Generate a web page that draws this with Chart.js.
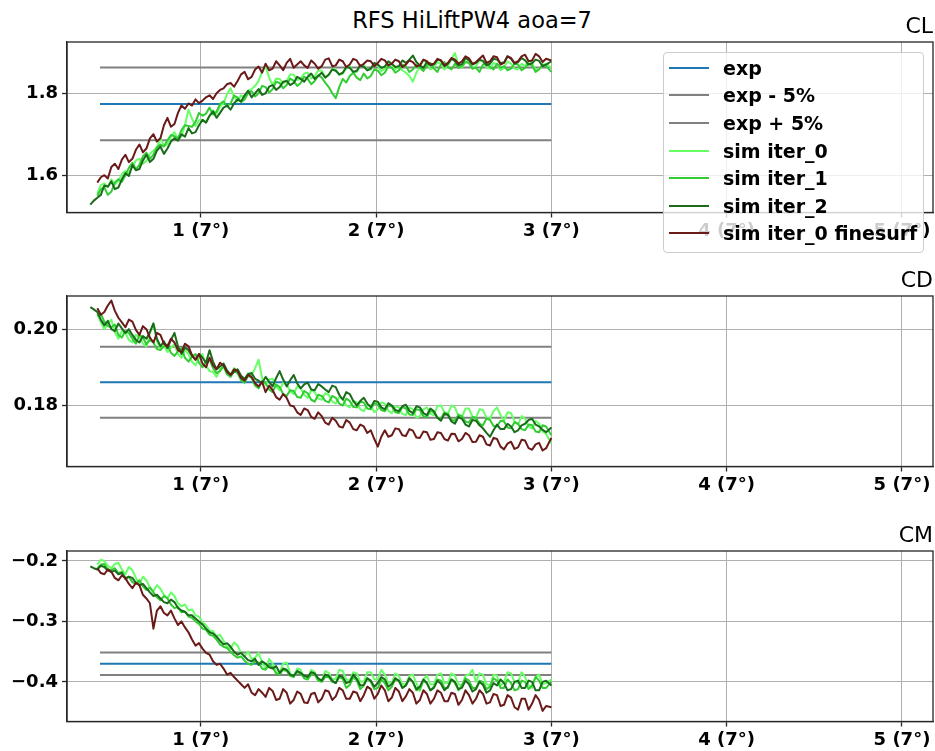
<!DOCTYPE html>
<html lang="en">
<head>
<meta charset="UTF-8">
<title>RFS HiLiftPW4 aoa=7</title>
<script src="https://cdn.jsdelivr.net/npm/chart.js"></script>
<style>
  body { margin: 0; width: 935px; height: 751px; overflow: hidden; background: #fff; position: relative; font-family: 'DejaVu Sans', sans-serif; }
  canvas { position: absolute; left: 0; }
  #titulo { position: absolute; top: 7px; left: 0; width: 944px; text-align: center; font-size: 22.5px; line-height: 26px; color: #000; }
  #legenda { position: absolute; left: 663px; top: 52px; width: 259px; height: 198px; background: rgba(255,255,255,0.8); border: 1px solid #cccccc; border-radius: 4px; padding-top: 1px; box-sizing: content-box; }
  .item { display: flex; align-items: center; height: 27.6px; }
  .traco { width: 40px; height: 2px; margin-left: 5px; }
  .texto { margin-left: 14px; font-weight: bold; font-size: 19px; color: #000; white-space: nowrap; }
</style>
</head>
<body>
<div id="titulo">RFS HiLiftPW4 aoa=7</div>
<canvas id="cl" width="935" height="250" style="top:0px"></canvas>
<canvas id="cd" width="935" height="250" style="top:254px"></canvas>
<canvas id="cm" width="935" height="250" style="top:509px"></canvas>
<div id="legenda"></div>

<script>
// x positions of the simulation samples
var xs = [
  0.37,0.39,0.41,0.43,0.45,0.47,0.49,0.51,0.53,0.55,
  0.57,0.59,0.61,0.63,0.65,0.67,0.69,0.71,0.73,0.75,
  0.77,0.79,0.81,0.83,0.85,0.87,0.89,0.91,0.93,0.95,
  0.97,0.99,1.01,1.03,1.05,1.07,1.09,1.11,1.13,1.15,
  1.17,1.19,1.21,1.23,1.25,1.27,1.29,1.31,1.33,1.35,
  1.37,1.39,1.41,1.43,1.45,1.47,1.49,1.51,1.53,1.55,
  1.57,1.59,1.61,1.63,1.65,1.67,1.69,1.71,1.73,1.75,
  1.77,1.79,1.81,1.83,1.85,1.87,1.89,1.91,1.93,1.95,
  1.97,1.99,2.01,2.03,2.05,2.07,2.09,2.11,2.13,2.15,
  2.17,2.19,2.21,2.23,2.25,2.27,2.29,2.31,2.33,2.35,
  2.37,2.39,2.41,2.43,2.45,2.47,2.49,2.51,2.53,2.55,
  2.57,2.59,2.61,2.63,2.65,2.67,2.69,2.71,2.73,2.75,
  2.77,2.79,2.81,2.83,2.85,2.87,2.89,2.91,2.93,2.95,
  2.97,3.00
];
// experimental reference lines
var expX = [0.425, 3.0];

var xTicks = [1, 2, 3, 4, 5];
var xTickLabels = ['1 (7°)', '2 (7°)', '3 (7°)', '4 (7°)', '5 (7°)'];

// ---------- CL ----------
var clTicks = [1.6, 1.8];
var clTickLabels = ['1.6', '1.8'];
var clExp = [1.774, 1.774];
var clExpMenos = [1.685, 1.685];
var clExpMais = [1.863, 1.863];
var clIter0 = [
  null,null,1.555,1.576,1.580,1.571,1.590,1.578,1.585,1.603,
  1.610,1.604,1.620,1.636,1.640,1.628,1.635,1.652,1.660,1.668,
  1.690,1.672,1.675,1.694,1.705,1.688,1.695,1.722,1.760,1.738,
  1.720,1.734,1.735,1.730,1.745,1.758,1.750,1.768,1.775,1.798,
  1.812,1.792,1.780,1.795,1.790,1.806,1.810,1.818,1.830,1.852,
  1.866,1.838,1.820,1.836,1.835,1.824,1.830,1.846,1.845,1.832,
  1.835,1.848,1.850,1.836,1.840,1.856,1.855,1.840,1.845,1.860,
  1.858,1.844,1.848,1.860,1.866,1.850,1.852,1.866,1.870,1.856,
  1.858,1.872,1.866,1.854,1.860,1.876,1.870,1.858,1.865,1.856,
  1.850,1.842,1.828,1.850,1.866,1.880,1.874,1.858,1.862,1.876,
  1.872,1.858,1.866,1.884,1.898,1.870,1.862,1.878,1.874,1.860,
  1.866,1.880,1.878,1.862,1.860,1.874,1.870,1.856,1.862,1.878,
  1.872,1.860,1.858,1.872,1.866,1.880,1.874,1.856,1.860,1.868,
  1.872,1.862
];
var clIter1 = [
  null,null,1.550,1.566,1.570,1.552,1.560,1.582,1.590,1.584,
  1.600,1.618,1.630,1.614,1.625,1.646,1.655,1.640,1.650,1.668,
  1.675,1.670,1.685,1.698,1.695,1.690,1.710,1.722,1.720,1.718,
  1.730,1.752,1.745,1.750,1.765,1.748,1.755,1.774,1.780,1.768,
  1.775,1.794,1.790,1.778,1.785,1.800,1.805,1.792,1.800,1.818,
  1.815,1.802,1.810,1.828,1.825,1.812,1.820,1.836,1.830,1.818,
  1.825,1.840,1.835,1.822,1.830,1.844,1.838,1.826,1.815,1.800,
  1.788,1.815,1.835,1.826,1.842,1.850,1.838,1.832,1.848,1.836,
  1.842,1.858,1.855,1.844,1.850,1.866,1.862,1.850,1.856,1.870,
  1.866,1.852,1.858,1.870,1.862,1.854,1.868,1.874,1.860,1.852,
  1.870,1.876,1.864,1.858,1.872,1.862,1.866,1.876,1.874,1.860,
  1.862,1.852,1.870,1.876,1.864,1.858,1.872,1.862,1.866,1.856,
  1.860,1.872,1.870,1.856,1.862,1.872,1.868,1.852,1.858,1.870,
  1.866,1.852
];
var clIter2 = [
  1.528,1.538,1.545,1.552,1.575,1.572,1.585,1.566,1.570,1.590,
  1.605,1.598,1.625,1.612,1.615,1.636,1.650,1.632,1.640,1.660,
  1.670,1.652,1.665,1.682,1.690,1.684,1.700,1.694,1.715,1.702,
  1.705,1.722,1.735,1.728,1.745,1.756,1.740,1.752,1.765,1.770,
  1.760,1.775,1.785,1.780,1.795,1.806,1.790,1.800,1.810,1.796,
  1.800,1.816,1.820,1.808,1.815,1.828,1.830,1.820,1.825,1.840,
  1.835,1.828,1.840,1.848,1.835,1.842,1.850,1.838,1.845,1.858,
  1.855,1.846,1.850,1.864,1.862,1.852,1.855,1.868,1.865,1.856,
  1.860,1.874,1.870,1.862,1.865,1.878,1.872,1.864,1.866,1.880,
  1.874,1.882,1.892,1.876,1.868,1.862,1.876,1.868,1.870,1.882,
  1.880,1.866,1.872,1.884,1.878,1.868,1.871,1.886,1.880,1.870,
  1.874,1.882,1.879,1.868,1.872,1.884,1.882,1.874,1.875,1.890,
  1.884,1.872,1.876,1.886,1.880,1.870,1.873,1.882,1.879,1.866,
  1.870,1.878
];
var clFine = [
  null,null,1.582,1.595,1.600,1.592,1.620,1.628,1.615,1.638,
  1.650,1.632,1.640,1.662,1.675,1.656,1.665,1.690,1.700,1.682,
  1.690,1.722,1.740,1.718,1.725,1.752,1.770,1.762,1.775,1.770,
  1.785,1.776,1.782,1.790,1.795,1.786,1.800,1.808,1.812,1.822,
  1.825,1.816,1.830,1.846,1.852,1.834,1.840,1.858,1.865,1.850,
  1.872,1.856,1.860,1.878,1.868,1.856,1.874,1.884,1.862,1.870,
  1.878,1.868,1.862,1.880,1.872,1.860,1.866,1.882,1.885,1.866,
  1.868,1.882,1.878,1.864,1.870,1.884,1.880,1.866,1.872,1.880,
  1.878,1.866,1.874,1.884,1.880,1.868,1.872,1.882,1.878,1.864,
  1.870,1.880,1.876,1.866,1.868,1.882,1.878,1.870,1.872,1.884,
  1.880,1.868,1.874,1.886,1.882,1.872,1.878,1.890,1.885,1.872,
  1.876,1.884,1.892,1.874,1.878,1.890,1.888,1.870,1.874,1.890,
  1.886,1.874,1.878,1.890,1.894,1.878,1.880,1.896,1.890,1.876,
  1.884,1.880
];

// ---------- CD ----------
var cdTicks = [0.18, 0.20];
var cdTickLabels = ['0.18', '0.20'];
var cdExp = [0.1861, 0.1861];
var cdExpMenos = [0.1768, 0.1768];
var cdExpMais = [0.1954, 0.1954];
var cdIter0 = [
  null,null,0.2040,0.2018,0.2000,0.2015,0.2025,0.1992,0.1975,0.1995,
  0.1990,0.1972,0.1965,0.1985,0.1980,0.1962,0.1955,0.1990,0.2015,0.1968,
  0.1950,0.1958,0.1940,0.1952,0.1960,0.1935,0.1925,0.1945,0.1935,0.1915,
  0.1905,0.1925,0.1935,0.1905,0.1890,0.1888,0.1875,0.1895,0.1900,0.1882,
  0.1880,0.1898,0.1890,0.1872,0.1865,0.1885,0.1880,0.1898,0.1920,0.1872,
  0.1855,0.1868,0.1870,0.1850,0.1840,0.1860,0.1855,0.1838,0.1830,0.1850,
  0.1845,0.1828,0.1820,0.1840,0.1835,0.1818,0.1815,0.1832,0.1828,0.1810,
  0.1805,0.1822,0.1818,0.1800,0.1795,0.1812,0.1808,0.1790,0.1785,0.1802,
  0.1800,0.1782,0.1790,0.1808,0.1805,0.1786,0.1780,0.1798,0.1795,0.1778,
  0.1775,0.1795,0.1790,0.1768,0.1772,0.1790,0.1795,0.1778,0.1775,0.1798,
  0.1800,0.1782,0.1778,0.1800,0.1795,0.1772,0.1770,0.1792,0.1792,0.1770,
  0.1768,0.1790,0.1788,0.1768,0.1765,0.1785,0.1795,0.1775,0.1760,0.1782,
  0.1780,0.1758,0.1750,0.1772,0.1765,0.1745,0.1740,0.1760,0.1752,0.1732,
  0.1725,0.1700
];
var cdIter1 = [
  null,null,0.2035,0.2040,0.2020,0.2008,0.2005,0.2012,0.1985,0.1978,
  0.1995,0.1990,0.1975,0.1962,0.1985,0.1978,0.1960,0.1972,0.1965,0.1948,
  0.1945,0.1955,0.1960,0.1938,0.1930,0.1942,0.1950,0.1925,0.1915,0.1928,
  0.1935,0.1912,0.1900,0.1915,0.1920,0.1898,0.1885,0.1890,0.1905,0.1882,
  0.1875,0.1890,0.1885,0.1866,0.1860,0.1878,0.1872,0.1852,0.1845,0.1865,
  0.1858,0.1842,0.1835,0.1855,0.1848,0.1830,0.1825,0.1840,0.1838,0.1822,
  0.1820,0.1838,0.1832,0.1815,0.1810,0.1828,0.1825,0.1812,0.1808,0.1825,
  0.1820,0.1805,0.1800,0.1818,0.1812,0.1796,0.1795,0.1810,0.1808,0.1792,
  0.1790,0.1806,0.1802,0.1788,0.1785,0.1800,0.1798,0.1782,0.1780,0.1796,
  0.1792,0.1776,0.1775,0.1790,0.1788,0.1772,0.1770,0.1786,0.1782,0.1768,
  0.1765,0.1782,0.1778,0.1762,0.1760,0.1776,0.1772,0.1758,0.1755,0.1770,
  0.1768,0.1752,0.1748,0.1766,0.1762,0.1746,0.1745,0.1760,0.1758,0.1742,
  0.1740,0.1756,0.1752,0.1738,0.1735,0.1750,0.1748,0.1732,0.1730,0.1748,
  0.1745,0.1722
];
var cdIter2 = [
  0.2058,0.2052,0.2045,0.2025,0.2010,0.2022,0.2000,0.1995,0.2015,0.2002,
  0.1990,0.2000,0.1985,0.1972,0.1965,0.1982,0.1975,0.1992,0.2015,0.1975,
  0.1955,0.1968,0.1950,0.1972,0.1990,0.1955,0.1935,0.1952,0.1945,0.1930,
  0.1920,0.1935,0.1925,0.1912,0.1945,0.1915,0.1895,0.1902,0.1910,0.1892,
  0.1880,0.1888,0.1895,0.1878,0.1870,0.1882,0.1885,0.1870,0.1865,0.1858,
  0.1875,0.1862,0.1850,0.1872,0.1890,0.1868,0.1850,0.1866,0.1880,0.1858,
  0.1845,0.1855,0.1860,0.1842,0.1840,0.1856,0.1850,0.1842,0.1835,0.1852,
  0.1848,0.1828,0.1815,0.1835,0.1830,0.1812,0.1800,0.1812,0.1820,0.1805,
  0.1795,0.1812,0.1810,0.1795,0.1790,0.1806,0.1800,0.1788,0.1785,0.1798,
  0.1802,0.1786,0.1780,0.1798,0.1795,0.1780,0.1775,0.1792,0.1785,0.1768,
  0.1760,0.1778,0.1775,0.1758,0.1752,0.1770,0.1765,0.1750,0.1745,0.1762,
  0.1760,0.1748,0.1740,0.1728,0.1718,0.1735,0.1750,0.1738,0.1738,0.1752,
  0.1745,0.1730,0.1735,0.1748,0.1752,0.1762,0.1765,0.1750,0.1745,0.1736,
  0.1730,0.1742
];
var cdFine = [
  null,null,0.2055,0.2038,0.2045,0.2062,0.2075,0.2048,0.2030,0.2018,
  0.2005,0.2025,0.2020,0.1998,0.1985,0.2008,0.2000,0.1978,0.1965,0.1990,
  0.1985,0.1962,0.1955,0.1975,0.1965,0.1945,0.1940,0.1962,0.1955,0.1932,
  0.1920,0.1935,0.1910,0.1900,0.1925,0.1905,0.1895,0.1912,0.1905,0.1888,
  0.1880,0.1895,0.1890,0.1872,0.1865,0.1880,0.1875,0.1858,0.1850,0.1862,
  0.1835,0.1852,0.1840,0.1822,0.1815,0.1830,0.1820,0.1800,0.1798,0.1782,
  0.1775,0.1792,0.1788,0.1770,0.1765,0.1782,0.1772,0.1755,0.1750,0.1768,
  0.1760,0.1745,0.1742,0.1762,0.1755,0.1738,0.1735,0.1750,0.1745,0.1728,
  0.1735,0.1712,0.1692,0.1718,0.1735,0.1718,0.1722,0.1740,0.1738,0.1722,
  0.1720,0.1738,0.1734,0.1716,0.1715,0.1732,0.1730,0.1710,0.1712,0.1730,
  0.1728,0.1712,0.1708,0.1726,0.1725,0.1706,0.1712,0.1728,0.1722,0.1704,
  0.1705,0.1722,0.1718,0.1698,0.1695,0.1715,0.1712,0.1692,0.1685,0.1700,
  0.1705,0.1686,0.1690,0.1710,0.1708,0.1688,0.1684,0.1698,0.1702,0.1682,
  0.1688,0.1715
];

// ---------- CM ----------
var cmTicks = [-0.4, -0.3, -0.2];
var cmTickLabels = ['\u22120.4', '\u22120.3', '\u22120.2'];
var cmExp = [-0.370, -0.370];
var cmExpMenos = [-0.3515, -0.3515];
var cmExpMais = [-0.3885, -0.3885];
var cmIter0 = [
  null,null,-0.206,-0.198,-0.200,-0.208,-0.212,-0.205,-0.203,-0.214,
  -0.222,-0.210,-0.215,-0.228,-0.238,-0.226,-0.232,-0.244,-0.250,-0.240,
  -0.246,-0.256,-0.262,-0.252,-0.258,-0.270,-0.275,-0.272,-0.282,-0.280,
  -0.290,-0.292,-0.302,-0.306,-0.315,-0.316,-0.325,-0.322,-0.332,-0.342,
  -0.345,-0.335,-0.340,-0.352,-0.358,-0.350,-0.362,-0.360,-0.352,-0.368,
  -0.378,-0.362,-0.370,-0.384,-0.385,-0.370,-0.368,-0.386,-0.392,-0.378,
  -0.380,-0.394,-0.395,-0.380,-0.384,-0.398,-0.398,-0.382,-0.385,-0.396,
  -0.395,-0.380,-0.382,-0.396,-0.398,-0.384,-0.386,-0.400,-0.400,-0.384,
  -0.384,-0.396,-0.396,-0.380,-0.388,-0.402,-0.402,-0.386,-0.390,-0.404,
  -0.404,-0.390,-0.388,-0.402,-0.415,-0.396,-0.390,-0.404,-0.404,-0.388,
  -0.386,-0.402,-0.402,-0.386,-0.390,-0.404,-0.406,-0.390,-0.388,-0.380,
  -0.400,-0.386,-0.388,-0.404,-0.406,-0.388,-0.390,-0.406,-0.400,-0.384,
  -0.386,-0.400,-0.402,-0.384,-0.392,-0.406,-0.410,-0.392,-0.388,-0.404,
  -0.402,-0.396
];
var cmIter1 = [
  null,null,-0.212,-0.206,-0.205,-0.214,-0.215,-0.212,-0.220,-0.218,
  -0.228,-0.226,-0.235,-0.238,-0.232,-0.242,-0.248,-0.244,-0.252,-0.260,
  -0.265,-0.258,-0.262,-0.272,-0.278,-0.276,-0.285,-0.284,-0.292,-0.294,
  -0.300,-0.304,-0.312,-0.314,-0.322,-0.324,-0.330,-0.338,-0.342,-0.344,
  -0.350,-0.356,-0.360,-0.358,-0.365,-0.370,-0.372,-0.366,-0.368,-0.378,
  -0.380,-0.372,-0.376,-0.386,-0.388,-0.380,-0.382,-0.390,-0.392,-0.384,
  -0.386,-0.394,-0.396,-0.388,-0.388,-0.398,-0.400,-0.392,-0.392,-0.400,
  -0.402,-0.392,-0.395,-0.410,-0.405,-0.392,-0.398,-0.412,-0.406,-0.394,
  -0.400,-0.412,-0.410,-0.396,-0.402,-0.414,-0.408,-0.396,-0.398,-0.410,
  -0.406,-0.394,-0.400,-0.414,-0.412,-0.398,-0.402,-0.414,-0.408,-0.396,
  -0.398,-0.410,-0.410,-0.396,-0.402,-0.414,-0.406,-0.394,-0.398,-0.410,
  -0.410,-0.398,-0.400,-0.412,-0.408,-0.394,-0.398,-0.410,-0.410,-0.396,
  -0.402,-0.414,-0.412,-0.398,-0.400,-0.412,-0.406,-0.392,-0.398,-0.410,
  -0.410,-0.400
];
var cmIter2 = [
  -0.209,-0.212,-0.214,-0.208,-0.210,-0.216,-0.218,-0.216,-0.222,-0.220,
  -0.230,-0.226,-0.228,-0.236,-0.240,-0.238,-0.245,-0.252,-0.258,-0.256,
  -0.262,-0.268,-0.270,-0.264,-0.268,-0.278,-0.282,-0.284,-0.290,-0.290,
  -0.295,-0.300,-0.305,-0.312,-0.318,-0.320,-0.325,-0.332,-0.338,-0.336,
  -0.342,-0.350,-0.355,-0.352,-0.358,-0.364,-0.366,-0.362,-0.372,-0.366,
  -0.370,-0.376,-0.378,-0.374,-0.385,-0.378,-0.380,-0.388,-0.390,-0.382,
  -0.385,-0.390,-0.392,-0.384,-0.386,-0.394,-0.398,-0.388,-0.390,-0.398,
  -0.402,-0.390,-0.392,-0.402,-0.400,-0.388,-0.395,-0.406,-0.405,-0.394,
  -0.398,-0.408,-0.402,-0.392,-0.396,-0.408,-0.404,-0.394,-0.398,-0.410,
  -0.406,-0.394,-0.400,-0.412,-0.408,-0.396,-0.402,-0.414,-0.410,-0.398,
  -0.403,-0.414,-0.408,-0.396,-0.400,-0.412,-0.410,-0.398,-0.404,-0.416,
  -0.412,-0.400,-0.405,-0.418,-0.414,-0.402,-0.406,-0.396,-0.402,-0.414,
  -0.412,-0.400,-0.398,-0.410,-0.410,-0.398,-0.400,-0.414,-0.414,-0.400,
  -0.398,-0.406
];
var cmFine = [
  null,null,-0.212,-0.220,-0.222,-0.214,-0.218,-0.228,-0.232,-0.224,
  -0.228,-0.238,-0.245,-0.236,-0.240,-0.256,-0.262,-0.270,-0.312,-0.282,
  -0.275,-0.286,-0.290,-0.282,-0.295,-0.306,-0.300,-0.310,-0.318,-0.330,
  -0.340,-0.336,-0.345,-0.352,-0.355,-0.366,-0.372,-0.370,-0.378,-0.388,
  -0.385,-0.392,-0.398,-0.404,-0.410,-0.404,-0.418,-0.422,-0.412,-0.418,
  -0.425,-0.410,-0.415,-0.430,-0.428,-0.412,-0.418,-0.436,-0.430,-0.416,
  -0.420,-0.434,-0.435,-0.420,-0.418,-0.434,-0.428,-0.414,-0.416,-0.430,
  -0.424,-0.410,-0.414,-0.428,-0.428,-0.416,-0.418,-0.432,-0.422,-0.408,
  -0.412,-0.428,-0.420,-0.406,-0.414,-0.432,-0.426,-0.410,-0.416,-0.432,
  -0.424,-0.412,-0.418,-0.436,-0.430,-0.414,-0.420,-0.436,-0.428,-0.414,
  -0.418,-0.432,-0.432,-0.418,-0.420,-0.438,-0.430,-0.414,-0.422,-0.436,
  -0.428,-0.414,-0.420,-0.436,-0.434,-0.420,-0.422,-0.440,-0.438,-0.422,
  -0.426,-0.442,-0.446,-0.428,-0.428,-0.446,-0.436,-0.422,-0.430,-0.448,
  -0.440,-0.442
];

var fonte = 'DejaVu Sans';

// box around the plot area (matplotlib style frame)
var moldura = {
  id: 'moldura',
  afterDraw: function (chart) {
    var a = chart.chartArea, ctx = chart.ctx;
    ctx.save();
    ctx.strokeStyle = '#262626';
    ctx.lineWidth = 1.3;
    ctx.strokeRect(a.left, a.top, a.right - a.left, a.bottom - a.top);
    ctx.restore();
  }
};

function pontos(x, y) {
  var out = [];
  for (var i = 0; i < x.length; i++) {
    if (y[i] !== null) out.push({ x: x[i], y: y[i] });
  }
  return out;
}

function serie(nome, x, y, cor, ordem) {
  return {
    label: nome,
    data: pontos(x, y),
    borderColor: cor,
    backgroundColor: cor,
    borderWidth: 2,
    pointRadius: 0,
    fill: false,
    tension: 0,
    borderJoinStyle: 'round',
    order: ordem
  };
}

function painel(id, titulo, yMin, yMax, yTicks, yLabels, exp, menos, mais, s0, s1, s2, sf) {
  var datasets = [
    serie('exp', expX, exp, '#1f77b4', 6),
    serie('exp - 5%', expX, menos, '#808080', 5),
    serie('exp + 5%', expX, mais, '#808080', 4),
    serie('sim iter_0', xs, s0, '#66ff66', 3),
    serie('sim iter_1', xs, s1, '#33cc33', 2),
    serie('sim iter_2', xs, s2, '#1a6b1a', 1),
    serie('sim iter_0 finesurf', xs, sf, '#6b1a1a', 0)
  ];

  var grade = { color: '#b0b0b0', lineWidth: 1, tickLength: 5, tickColor: '#262626', tickWidth: 1.3 };

  return new Chart(document.getElementById(id), {
    type: 'line',
    data: { datasets: datasets },
    options: {
      responsive: false,
      animation: false,
      devicePixelRatio: 1,
      layout: { padding: { left: 0, right: 2, top: 0, bottom: 0 } },
      plugins: {
        legend: { display: false },
        tooltip: { enabled: false },
        title: {
          display: true,
          text: titulo,
          align: 'end',
          color: '#000',
          font: { family: fonte, size: 22, weight: 'normal' },
          padding: { top: 14.4, bottom: 1.2 }
        }
      },
      scales: {
        x: {
          type: 'linear',
          min: 0.237,
          max: 5.177,
          afterBuildTicks: function (ax) { ax.ticks = xTicks.map(function (v) { return { value: v }; }); },
          afterFit: function (ax) { ax.height = 37.5; },
          ticks: {
            color: '#000',
            padding: 3,
            maxRotation: 0,
            font: { family: fonte, size: 18, weight: 'bold' },
            callback: function (v) { return xTickLabels[xTicks.indexOf(v)]; }
          },
          grid: grade,
          border: { display: true, color: '#262626', width: 1.3 }
        },
        y: {
          type: 'linear',
          min: yMin,
          max: yMax,
          afterBuildTicks: function (ax) { ax.ticks = yTicks.map(function (v) { return { value: v }; }); },
          afterFit: function (ax) { ax.width = 67; },
          ticks: {
            color: '#000',
            padding: 4,
            font: { family: fonte, size: 18, weight: 'bold' },
            callback: function (v) { return yLabels[yTicks.indexOf(v)]; }
          },
          grid: grade,
          border: { display: true, color: '#262626', width: 1.3 }
        }
      }
    },
    plugins: [moldura]
  });
}

var graficoCL = painel('cl', 'CL', 1.509, 1.925, clTicks, clTickLabels, clExp, clExpMenos, clExpMais, clIter0, clIter1, clIter2, clFine);
painel('cd', 'CD', 0.164, 0.2087, cdTicks, cdTickLabels, cdExp, cdExpMenos, cdExpMais, cdIter0, cdIter1, cdIter2, cdFine);
painel('cm', 'CM', -0.4656, -0.1835, cmTicks, cmTickLabels, cmExp, cmExpMenos, cmExpMais, cmIter0, cmIter1, cmIter2, cmFine);

// legend built from the datasets of the first chart
var legenda = document.getElementById('legenda');
graficoCL.data.datasets.forEach(function (ds) {
  var item = document.createElement('div');
  item.className = 'item';
  item.innerHTML = '<div class="traco" style="background:' + ds.borderColor + '"></div><span class="texto">' + ds.label + '</span>';
  legenda.appendChild(item);
});
</script>
</body>
</html>
